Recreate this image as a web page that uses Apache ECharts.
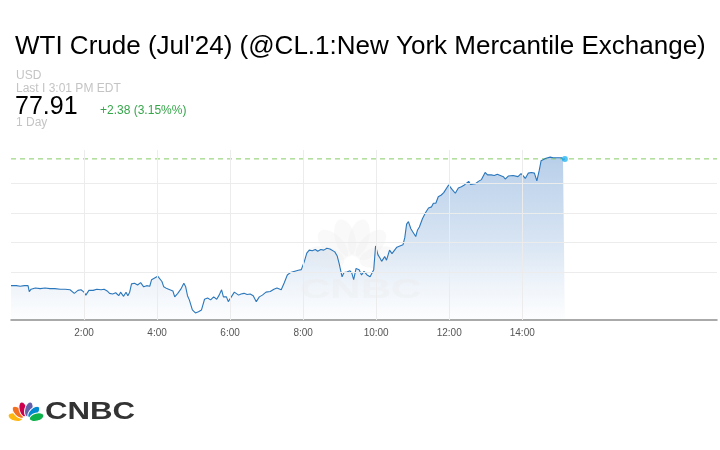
<!DOCTYPE html>
<html>
<head>
<meta charset="utf-8">
<script src="https://cdn.jsdelivr.net/npm/echarts@6/dist/echarts.min.js"></script>
<style>
html,body{margin:0;padding:0;background:#fff;}
#c{width:720px;height:450px;}
</style>
</head>
<body>
<div id="c"></div>
<script>
// ---- data (minutes since 0:00, price) ----
const times = [0,9,15,22,28,30,33,40,48,56,
64,72,81,89,97,104,110,115,120,123,
128,135,141,148,153,158,162,167,172,177,
180,185,189,192,195,198,203,208,213,218,
223,228,231,236,241,244,248,251,256,261,
266,269,274,279,284,287,290,293,298,303,
308,313,318,323,328,333,338,342,346,349,
354,357,362,367,370,374,378,383,388,393,
398,403,408,413,419,426,432,437,444,449,
454,459,465,472,477,482,486,490,495,500,
504,509,514,519,524,527,532,536,539,544,
547,552,557,560,563,567,572,576,580,585,
590,593,596,599,603,606,609,614,617,622,
626,629,634,639,644,647,650,653,657,660,
665,668,671,676,681,686,691,694,698,702,
707,711,714,719,722,725,730,735,740,745,
748,752,755,758,763,768,773,776,779,783,
786,789,794,799,804,809,812,817,820,825,
828,833,838,842,845,850,855,860,863,864,
868,871,874,879,882,886,891,894,899,902,
905,907,910];
const prices = [75.77,75.77,75.76,75.77,75.77,75.67,75.71,75.73,75.72,75.73,
75.72,75.72,75.71,75.71,75.70,75.64,75.69,75.70,75.66,75.61,
75.69,75.69,75.71,75.70,75.71,75.68,75.64,75.63,75.65,75.60,
75.66,75.59,75.66,75.60,75.66,75.80,75.81,75.78,75.82,75.75,
75.77,75.76,75.87,75.90,75.93,75.90,75.84,75.75,75.72,75.70,
75.68,75.58,75.64,75.71,75.81,75.75,75.60,75.53,75.36,75.31,
75.33,75.36,75.54,75.56,75.53,75.58,75.54,75.61,75.70,75.58,
75.58,75.50,75.58,75.66,75.67,75.61,75.63,75.64,75.62,75.63,
75.60,75.50,75.58,75.61,75.66,75.67,75.71,75.73,75.70,75.82,
75.95,75.99,76.01,76.03,76.04,76.18,76.32,76.37,76.36,76.38,
76.35,76.38,76.37,76.40,76.39,76.40,76.34,76.27,76.15,75.92,
75.99,76.00,76.02,75.98,75.87,76.06,76.04,75.95,76.01,75.95,
75.92,75.89,76.04,76.44,76.29,76.24,76.18,76.26,76.20,76.37,
76.31,76.29,76.42,76.44,76.46,76.58,76.81,76.85,76.73,76.68,
76.60,76.71,76.76,76.90,77.00,77.08,77.10,77.16,77.16,77.27,
77.30,77.34,77.36,77.47,77.45,77.39,77.33,77.42,77.44,77.47,
77.50,77.53,77.48,77.47,77.49,77.53,77.56,77.59,77.68,77.64,
77.61,77.64,77.63,77.65,77.63,77.61,77.57,77.62,77.64,77.63,
77.66,77.61,77.66,77.62,77.58,77.67,77.68,77.67,77.65,77.54,
77.72,77.88,77.89,77.92,77.91,77.94,77.93,77.92,77.93,77.94,
77.93,77.89,77.91];
const xTickMinutes = [120,240,360,480,600,720,840];
const xTickLabels = ['2:00','4:00','6:00','8:00','10:00','12:00','14:00'];
const yGridValues = [76.0,76.5,77.0,77.5];
const lastPrice = 77.91;
const xMin = 0, xMax = 1160;
const titleText = "WTI Crude (Jul'24) (@CL.1:New York Mercantile Exchange)";
const currencyText = 'USD';
const lastTimeText = 'Last I 3:01 PM EDT';
const lastPriceText = '77.91';
const changeText = '+2.38 (3.15%%)';
const rangeText = '1 Day';

const seriesData = times.map((t, i) => [t, prices[i]]);
const lastPoint = seriesData[seriesData.length - 1];

const FONT = '"Liberation Sans", Arial, Helvetica, sans-serif';

function feather(bx, by, deg, d, rx, ry, fill, stroke, z) {
  const a = deg * Math.PI / 180;
  return {
    type: 'ellipse', silent: true, z: z,
    x: bx + d * Math.sin(a), y: by - d * Math.cos(a), rotation: -a,
    shape: {cx: 0, cy: 0, rx: rx, ry: ry},
    style: {fill: fill, stroke: stroke, lineWidth: stroke ? 1 : 0}
  };
}
const logoColors = ['#fcb711','#f37021','#cc004c','#6460aa','#0089d0','#0db14b'];
const logoAngles = [-75,-45,-15,15,45,75];

const graphics = [];
graphics.push({type:'text', x:15, y:47, silent:true, style:{text:titleText, font:'26px '+FONT, fill:'#000', verticalAlign:'middle'}});
graphics.push({type:'text', x:16, y:76, silent:true, style:{text:currencyText, font:'12px '+FONT, fill:'#c4c4c4', verticalAlign:'middle'}});
graphics.push({type:'text', x:16, y:89, silent:true, style:{text:lastTimeText, font:'12px '+FONT, fill:'#c4c4c4', verticalAlign:'middle'}});
graphics.push({type:'text', x:15, y:107, silent:true, style:{text:lastPriceText, font:'25px '+FONT, fill:'#000', verticalAlign:'middle'}});
graphics.push({type:'text', x:100, y:111, silent:true, style:{text:changeText, font:'12px '+FONT, fill:'#36a64a', verticalAlign:'middle'}});
graphics.push({type:'text', x:16, y:123, silent:true, style:{text:rangeText, font:'12px '+FONT, fill:'#c4c4c4', verticalAlign:'middle'}});
// bottom logo
logoAngles.forEach((a, i) => graphics.push(feather(26, 420, a, 11, 4, 7.5, logoColors[i], '#fff', 10)));
graphics.push({type:'text', x:45, y:412, scaleX:1.3, silent:true, style:{text:'CNBC', font:'bold 24px '+FONT, fill:'#333', verticalAlign:'middle'}});
// faint watermark
logoAngles.forEach((a) => graphics.push(feather(352, 264, a, 27, 10, 19, 'rgba(236,236,236,0.3)', null, 3)));
graphics.push({type:'text', x:300, y:290, scaleX:1.5, silent:true, z:3, style:{text:'CNBC', font:'bold 28px '+FONT, fill:'rgba(236,236,236,0.35)', verticalAlign:'middle'}});

const chart = echarts.init(document.getElementById('c'), null, {renderer:'canvas'});
chart.setOption({
  animation: false,
  backgroundColor: '#fff',
  grid: {left: 11, right: 0, top: 150, bottom: 130, containLabel: false},
  xAxis: {
    type: 'value', min: xMin, max: xMax, interval: 120,
    axisLine: {show: true, lineStyle: {color: '#8e8e8e', width: 1.5}},
    axisTick: {show: false},
    splitLine: {show: false},
    axisLabel: {
      color: '#555', fontSize: 10, fontFamily: FONT, margin: 8,
      formatter: v => { const k = xTickMinutes.indexOf(v); return k >= 0 ? xTickLabels[k] : ''; }
    }
  },
  yAxis: {
    type: 'value', min: 75.19, max: 78.06,
    axisLine: {show: false}, axisTick: {show: false}, axisLabel: {show: false},
    splitLine: {show: false}
  },
  graphic: graphics,
  series: [
    {
      name: 'grid', type: 'line', data: [], z: 1, silent: true, symbol: 'none',
      markLine: {
        silent: true, symbol: 'none', label: {show: false}, animation: false,
        lineStyle: {color: '#ececec', type: 'solid', width: 1},
        data: yGridValues.map(v => ({yAxis: v})).concat(xTickMinutes.map(v => ({xAxis: v})))
      }
    },
    {
      name: 'area', type: 'line', data: seriesData, z: 2, silent: true,
      symbol: 'none', lineStyle: {opacity: 0},
      areaStyle: {
        color: new echarts.graphic.LinearGradient(0, 0, 0, 1, [
          {offset: 0, color: 'rgba(41,110,190,0.47)'},
          {offset: 0.5, color: 'rgba(41,110,190,0.27)'},
          {offset: 0.8, color: 'rgba(41,110,190,0.10)'},
          {offset: 1, color: 'rgba(41,110,190,0.01)'}
        ])
      }
    },
    {
      name: 'lastLevel', type: 'line', z: 3, silent: true, symbol: 'none',
      data: [[xMin, lastPrice], [xMax, lastPrice]],
      lineStyle: {color: '#86cc66', type: [5, 4], width: 1}
    },
    {
      name: 'WTI', type: 'line', data: seriesData, z: 4, silent: true,
      symbol: 'none', lineStyle: {color: '#2b77bc', width: 1.1}
    },
    {
      name: 'last', type: 'scatter', data: [lastPoint], z: 5, silent: true,
      symbol: 'circle', symbolSize: 6, itemStyle: {color: '#29b5f1'}
    }
  ]
});
</script>
</body>
</html>
